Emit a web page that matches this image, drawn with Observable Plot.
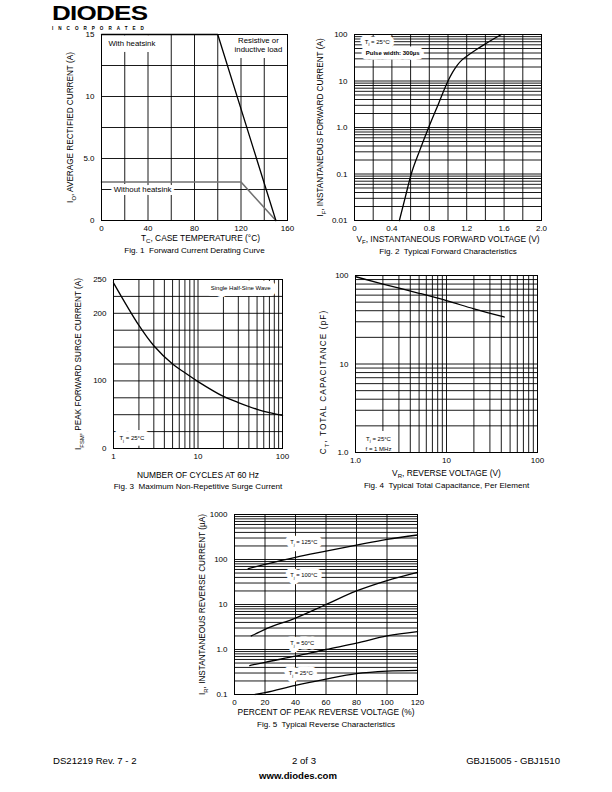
<!DOCTYPE html>
<html>
<head>
<meta charset="utf-8">
<script src="https://cdn.jsdelivr.net/npm/d3@7"></script>
<script src="https://cdn.jsdelivr.net/npm/@observablehq/plot@0.6"></script>
<style>
  html, body { margin: 0; padding: 0; background: white; }
  #page { position: relative; width: 612px; height: 792px; background: white; overflow: hidden; }
</style>
</head>
<body>
<div id="page"></div>
<script>
// ---------------- DATA ----------------
// Fig. 1 Forward Current Derating Curve
const fig1TempWith = [0, 100, 150];
const fig1CurrentWith = [15, 15, 0];
const fig1TempWithout = [0, 120, 150];
const fig1CurrentWithout = [3.1, 3.1, 0];
const fig1XTicks = [0, 40, 80, 120, 160];
const fig1XLabels = ["0", "40", "80", "120", "160"];
const fig1YTicks = [0, 5, 10, 15];
const fig1YLabels = ["0", "5.0", "10", "15"];

// Fig. 2 Typical Forward Characteristics
const fig2Vf = [0.48, 0.54, 0.607, 0.70, 0.793, 0.90, 1.0, 1.05, 1.10, 1.15, 1.20, 1.30, 1.40, 1.50, 1.57];
const fig2If = [0.01, 0.03, 0.1, 0.33, 1, 3.3, 10, 15.5, 22, 28.5, 34, 47, 63, 83, 100];
const fig2XTicks = [0, 0.4, 0.8, 1.2, 1.6, 2.0];
const fig2XLabels = ["0", "0.4", "0.8", "1.2", "1.6", "2.0"];
const fig2YTicks = [0.01, 0.1, 1, 10, 100];
const fig2YLabels = ["0.01", "0.1", "1.0", "10", "100"];

// Fig. 3 Maximum Non-Repetitive Surge Current
const fig3Cycles = [1, 2, 3, 5, 7, 10, 20, 30, 50, 70, 100];
const fig3Ifsm = [245, 182, 152, 125, 112, 99, 77, 68, 58, 53, 49];
const fig3XTicks = [1, 10, 100];
const fig3XLabels = ["1", "10", "100"];
const fig3YTicks = [0, 100, 200, 250];
const fig3YLabels = ["0", "100", "200", "250"];

// Fig. 4 Typical Total Capacitance, Per Element
const fig4Vr = [1, 2, 5, 10, 20, 43];
const fig4Ct = [97, 80, 63, 52, 42, 34];
const fig4XTicks = [1, 10, 100];
const fig4XLabels = ["1.0", "10", "100"];
const fig4YTicks = [1, 10, 100];
const fig4YLabels = ["1.0", "10", "100"];

// Fig. 5 Typical Reverse Characteristics
const fig5Pct125 = [9, 20, 40, 60, 80, 100, 120];
const fig5Ir125 = [63, 78, 112, 153, 208, 280, 350];
const fig5Pct100 = [11, 20, 40, 60, 80, 100, 120];
const fig5Ir100 = [2.0, 2.8, 5.0, 10, 20, 34, 52];
const fig5Pct50 = [10, 20, 40, 60, 80, 100, 120];
const fig5Ir50 = [0.44, 0.52, 0.71, 1.0, 1.38, 2.0, 2.5];
const fig5Pct25 = [13.5, 20, 40, 60, 80, 100, 120];
const fig5Ir25 = [0.1, 0.11, 0.16, 0.22, 0.29, 0.33, 0.345];
const fig5XTicks = [0, 20, 40, 60, 80, 100, 120];
const fig5XLabels = ["0", "20", "40", "60", "80", "100", "120"];
const fig5YTicks = [0.1, 1, 10, 100, 1000];
const fig5YLabels = ["0.1", "1.0", "10", "100", "1000"];

// ---------------- HELPERS ----------------
const FONT = "'Liberation Sans', Arial, Helvetica, sans-serif";
const page = document.getElementById("page");
const GW = 0.9;

function zip(xs, ys) { return xs.map((x, i) => ({x, y: ys[i]})); }
function fmt(ticks, labels) { return d => labels[ticks.indexOf(d)]; }
function linGrid(lo, hi, step) { return d3.range(lo, hi + step / 2, step); }
function logGrid(lo, hi) {
  const out = [];
  for (let e = Math.round(Math.log10(lo)); e < Math.round(Math.log10(hi)); e++)
    for (let m = 1; m < 10; m++) out.push(+(m * Math.pow(10, e)).toPrecision(6));
  out.push(hi);
  return out;
}

function subify(root) {
  root.querySelectorAll("text, tspan").forEach(el => {
    if (el.childElementCount || !el.textContent.includes("_{")) return;
    const fs = parseFloat(getComputedStyle(el).fontSize) || 8;
    const s = el.textContent;
    el.textContent = "";
    const parts = s.split(/_\{([^}]*)\}/);
    let shifted = false;
    parts.forEach((p, i) => {
      if (!p) return;
      const ts = document.createElementNS("http://www.w3.org/2000/svg", "tspan");
      ts.textContent = p;
      if (i % 2) { ts.setAttribute("font-size", (fs * 0.72).toFixed(2)); ts.setAttribute("dy", (fs * 0.3).toFixed(2)); shifted = true; }
      else if (shifted) { ts.setAttribute("dy", (-fs * 0.3).toFixed(2)); shifted = false; }
      el.appendChild(ts);
    });
  });
}

function titles(xTitle, xdy, yTitle, ydx, cap, capdy, xdx = 0, ydy = 0) {
  return [
    Plot.text([xTitle], {frameAnchor: "bottom", dy: xdy, dx: xdx, text: d => d, fontSize: 8.4, textAnchor: "middle"}),
    Plot.text([yTitle], {frameAnchor: "left", dx: ydx, dy: ydy, rotate: -90, text: d => d, fontSize: 8.2, textAnchor: "middle"}),
    Plot.text([cap], {frameAnchor: "bottom", dy: capdy, text: d => d, fontSize: 8.1, textAnchor: "middle"})
  ];
}

// annotation with a white mask behind it (two layers so the mask never covers glyphs)
function note(label, opts, maskWidth) {
  return [
    Plot.text([label], {...opts, text: d => d, fill: "white", stroke: "white", strokeWidth: maskWidth, strokeLinejoin: "round"}),
    Plot.text([label], {...opts, text: d => d, fill: "black"})
  ];
}

function chart(box, margins, opts) {
  const [L, T, R, B] = box;
  const [mt, mr, mb, ml] = margins;
  const el = Plot.plot({
    width: ml + (R - L) + mr,
    height: mt + (B - T) + mb,
    marginTop: mt, marginRight: mr, marginBottom: mb, marginLeft: ml,
    style: {background: "transparent", color: "black", fontFamily: FONT, fontSize: "8px", overflow: "visible"},
    ...opts
  });
  el.style.position = "absolute";
  el.style.left = (L - ml) + "px";
  el.style.top = (T - mt) + "px";
  page.appendChild(el);
  subify(el);
  return el;
}

const axisX = (domain, ticks, labels, type = "linear") => ({type, domain, ticks, tickFormat: fmt(ticks, labels), tickSize: 0, tickPadding: 5, label: null});
const axisY = (domain, ticks, labels, type = "linear") => ({type, domain, ticks, tickFormat: fmt(ticks, labels), tickSize: 0, tickPadding: 7, label: null});
const grid = (gx, gy) => [
  Plot.ruleX(gx, {stroke: "black", strokeWidth: GW}),
  Plot.ruleY(gy, {stroke: "black", strokeWidth: GW})
];
const curve = (xs, ys, extra = {}) => Plot.line(zip(xs, ys), {x: "x", y: "y", stroke: "black", strokeWidth: 1.3, ...extra});

// ---------------- FIG 1 ----------------
chart([101, 34, 287, 220], [8, 14, 40, 45], {
  x: axisX([0, 160], fig1XTicks, fig1XLabels),
  y: axisY([0, 15], fig1YTicks, fig1YLabels),
  marks: [
    ...grid(linGrid(0, 160, 20), linGrid(0, 15, 2.5)),
    ...note("With heatsink", {x: 6, y: 14.3, textAnchor: "start", fontSize: 7.8}, 12),
    ...note("Resistive or\ninductive load", {x: 135, y: 14.2, textAnchor: "middle", fontSize: 7.8, lineHeight: 1.2}, 12),
    ...note("Without heatsink", {x: 35.3, y: 2.5, textAnchor: "middle", fontSize: 7.8}, 6),
    curve(fig1TempWithout, fig1CurrentWithout, {stroke: "#707070", strokeWidth: 1.6}),
    curve(fig1TempWith, fig1CurrentWith),
    Plot.frame({stroke: "black", strokeWidth: 1}),
    ...titles("T_{C}, CASE TEMPERATURE (°C)", 20, "I_{O}, AVERAGE RECTIFIED CURRENT (A)", -31, "Fig. 1  Forward Current Derating Curve", 32, 6)
  ]
});

// ---------------- FIG 2 ----------------
chart([354, 34, 541, 220], [8, 14, 40, 45], {
  x: axisX([0, 2], fig2XTicks, fig2XLabels),
  y: axisY([0.01, 100], fig2YTicks, fig2YLabels, "log"),
  marks: [
    ...grid(linGrid(0, 2, 0.2), logGrid(0.01, 100)),
    ...note("T_{j} = 25°C", {x: 0.11, y: 70, textAnchor: "start", fontSize: 6}, 9),
    ...note("Pulse width: 300µs", {x: 0.12, y: 39, textAnchor: "start", fontSize: 6, fontWeight: "bold"}, 9),
    curve(fig2Vf, fig2If, {curve: "monotone-x"}),
    Plot.frame({stroke: "black", strokeWidth: 1}),
    ...titles("V_{F}, INSTANTANEOUS FORWARD VOLTAGE (V)", 21, "I_{F}, INSTANTANEOUS FORWARD CURRENT (A)", -34, "Fig. 2  Typical Forward Characteristics", 33)
  ]
});

// ---------------- FIG 3 ----------------
chart([113, 279, 282, 448], [8, 14, 48, 45], {
  x: axisX([1, 100], fig3XTicks, fig3XLabels, "log"),
  y: axisY([0, 250], fig3YTicks, fig3YLabels),
  marks: [
    ...grid(logGrid(1, 100), linGrid(0, 250, 25)),
    ...note("Single Half-Sine Wave", {x: 32, y: 237, textAnchor: "middle", fontSize: 6}, 12),
    ...note("T_{j} = 25°C", {x: 1.65, y: 15, textAnchor: "middle", fontSize: 6}, 12),
    curve(fig3Cycles, fig3Ifsm, {curve: "catmull-rom"}),
    Plot.frame({stroke: "black", strokeWidth: 1}),
    ...titles("NUMBER OF CYCLES AT 60 Hz", 29, "I_{FSM}, PEAK FORWARD SURGE CURRENT (A)", -35, "Fig. 3  Maximum Non-Repetitive Surge Current", 40)
  ]
});

// ---------------- FIG 4 ----------------
const fig4 = chart([355, 275, 537, 452], [8, 14, 42, 45], {
  x: axisX([1, 100], fig4XTicks, fig4XLabels, "log"),
  y: axisY([1, 100], fig4YTicks, fig4YLabels, "log"),
  marks: [
    ...grid(logGrid(1, 100), logGrid(1, 100)),
    ...note("T_{j} = 25°C\nf = 1 MHz", {x: 1.79, y: 1.3, textAnchor: "middle", fontSize: 6, lineHeight: 1.65}, 12),
    curve(fig4Vr, fig4Ct, {curve: "monotone-x"}),
    Plot.frame({stroke: "black", strokeWidth: 1}),
    ...titles("V_{R}, REVERSE VOLTAGE (V)", 23, "C_{T}, TOTAL CAPACITANCE (pF)", -32, "Fig. 4  Typical Total Capacitance, Per Element", 35, 0, 18)
  ]
});
fig4.querySelectorAll("text").forEach(t => {
  if (t.textContent.includes("CAPACITANCE (pF)")) t.setAttribute("letter-spacing", "1.1");
});

// ---------------- FIG 5 ----------------
chart([234, 514, 417, 694], [8, 14, 40, 45], {
  x: axisX([0, 120], fig5XTicks, fig5XLabels),
  y: axisY([0.1, 1000], fig5YTicks, fig5YLabels, "log"),
  marks: [
    ...grid(linGrid(0, 120, 20), logGrid(0.1, 1000)),
    ...note("T_{j} = 125°C", {x: 36.5, y: 239, textAnchor: "start", fontSize: 5.8}, 9),
    ...note("T_{j} = 100°C", {x: 36.5, y: 44, textAnchor: "start", fontSize: 5.8}, 9),
    ...note("T_{j} = 50°C", {x: 36.5, y: 1.36, textAnchor: "start", fontSize: 5.8}, 9),
    ...note("T_{j} = 25°C", {x: 35.5, y: 0.293, textAnchor: "start", fontSize: 5.8}, 9),
    curve(fig5Pct125, fig5Ir125, {curve: "monotone-x"}),
    curve(fig5Pct100, fig5Ir100, {curve: "monotone-x"}),
    curve(fig5Pct50, fig5Ir50, {curve: "monotone-x"}),
    curve(fig5Pct25, fig5Ir25, {curve: "monotone-x"}),
    Plot.frame({stroke: "black", strokeWidth: 1}),
    ...titles("PERCENT OF PEAK REVERSE VOLTAGE (%)", 20, "I_{R}, INSTANTANEOUS REVERSE CURRENT (µA)", -32, "Fig. 5  Typical Reverse Characteristics", 32)
  ]
});

// ---------------- LOGO & FOOTER ----------------
const NS = "http://www.w3.org/2000/svg";
const deco = document.createElementNS(NS, "svg");
deco.setAttribute("width", 612); deco.setAttribute("height", 792);
deco.style.position = "absolute"; deco.style.left = "0"; deco.style.top = "0"; deco.style.pointerEvents = "none";
deco.style.fontFamily = FONT;
function addText(txt, x, y, attrs) {
  const t = document.createElementNS(NS, "text");
  t.setAttribute("x", x); t.setAttribute("y", y);
  for (const k in attrs) t.setAttribute(k, attrs[k]);
  t.textContent = txt;
  deco.appendChild(t);
  return t;
}
addText("DIODES", 0, 0, {"font-size": 21, "font-weight": "bold", "letter-spacing": -0.6,
  transform: "translate(52,20) scale(1.24,1)"});
addText("INCORPORATED", 52, 30, {"font-size": 4.6, "font-weight": "bold", "letter-spacing": 5.0});
addText("DS21219 Rev. 7 - 2", 53, 764, {"font-size": 9.6});
addText("2 of 3", 304, 764, {"font-size": 9.6, "text-anchor": "middle"});
addText("www.diodes.com", 298, 779, {"font-size": 9.6, "font-weight": "bold", "text-anchor": "middle"});
addText("GBJ15005 - GBJ1510", 560, 764, {"font-size": 9.6, "text-anchor": "end"});
page.appendChild(deco);
</script>
</body>
</html>
